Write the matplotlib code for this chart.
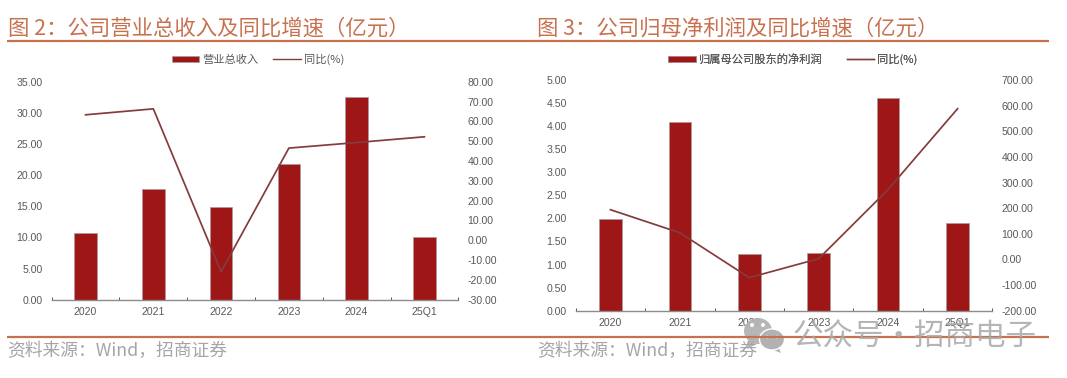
import matplotlib
matplotlib.use("Agg")
import matplotlib.pyplot as plt
from matplotlib.patches import Ellipse, Polygon

CJK = ['Noto Sans CJK SC', 'DejaVu Sans']
LAT = ['Liberation Sans', 'DejaVu Sans']
plt.rcParams['font.family'] = CJK

periods = ['2020', '2021', '2022', '2023', '2024', '25Q1']
revenue = [10.65, 17.8, 14.9, 21.75, 32.6, 10.0]
revenue_yoy = [63.3, 66.3, -15.9, 46.5, 49.3, 52.2]
profit = [1.99, 4.08, 1.235, 1.25, 4.61, 1.91]
profit_yoy = [194, 104, -71, 3, 273, 588]

rev_ticks = [0, 5, 10, 15, 20, 25, 30, 35]
rev_yoy_ticks = [-30, -20, -10, 0, 10, 20, 30, 40, 50, 60, 70, 80]
pro_ticks = [0, .5, 1, 1.5, 2, 2.5, 3, 3.5, 4, 4.5, 5]
pro_yoy_ticks = [-200, -100, 0, 100, 200, 300, 400, 500, 600, 700]

W, H = 1067, 378
BAR = '#9E1616'
LINE = '#843C3C'
GREY = '#595959'
RULE = '#C8714F'
TITLE = '#C8714F'
SRC = '#A4A4AA'
fig = plt.figure(figsize=(W / 100, H / 100), dpi=100, facecolor='white')


def panel(x0, x1, ytop, ybot, bars, line, lticks, rticks, bar_w, xpad):
    ax = fig.add_axes([x0 / W, 1 - ybot / H, (x1 - x0) / W, (ybot - ytop) / H])
    b = ax.bar(range(len(periods)), bars, width=bar_w, color=BAR,
               edgecolor='#A89C9C', linewidth=0.5)
    ax.set_xlim(-0.5, len(periods) - 0.5)
    ax.set_ylim(lticks[0], lticks[-1])
    ax.set_yticks(lticks, [f'{v:.2f}' for v in lticks], fontfamily=LAT,
                  fontsize=7.6, color=GREY)
    ax.tick_params(axis='y', length=0, pad=6.5)
    ax.set_xticks([i - 0.5 for i in range(len(periods) + 1)], [''] * (len(periods) + 1))
    ax.tick_params(axis='x', which='major', direction='in', length=2.2, width=0.7,
                   color='#555555')
    ax.set_xticks(range(len(periods)), periods, minor=True, fontfamily=LAT,
                  fontsize=7.6, color=GREY)
    ax.tick_params(axis='x', which='minor', length=0, pad=xpad)
    for s in ['top', 'left', 'right']:
        ax.spines[s].set_visible(False)
    ax.spines['bottom'].set_color('#8C8C8C')
    ax.spines['bottom'].set_linewidth(1.0)
    ax.patch.set_alpha(0)

    tw = ax.twinx()
    l, = tw.plot(range(len(periods)), line, color=LINE, linewidth=1.25)
    tw.set_ylim(rticks[0], rticks[-1])
    tw.set_yticks(rticks, [f'{v:.2f}' for v in rticks], fontfamily=LAT,
                  fontsize=7.6, color=GREY)
    tw.tick_params(axis='y', length=0, pad=6.5)
    for s in tw.spines.values():
        s.set_visible(False)
    return b, l


b1, l1 = panel(51.7, 458.3, 81.7, 299.7, revenue, revenue_yoy, rev_ticks, rev_yoy_ticks, 0.335, 5.0)
b2, l2 = panel(575.7, 992.3, 80.0, 310.7, profit, profit_yoy, pro_ticks, pro_yoy_ticks, 0.325, 5.0)

ov = fig.add_axes([0, 0, 1, 1], zorder=10)
ov.set_xlim(0, W)
ov.set_ylim(H, 0)
ov.axis('off')
ov.patch.set_alpha(0)

for y in (40.8, 337):
    ov.plot([7, 1049], [y, y], color=RULE, linewidth=1.6, solid_capstyle='butt')

ov.text(8, 28.5, '图 2：公司营业总收入及同比增速（亿元）', fontsize=15.4, color=TITLE, va='center')
ov.text(537, 28.5, '图 3：公司归母净利润及同比增速（亿元）', fontsize=15.4, color=TITLE, va='center')
ov.text(7, 351, '资料来源：Wind，招商证券', fontsize=12.8, color=SRC, va='center')
ov.text(537, 351, '资料来源：Wind，招商证券', fontsize=12.8, color=SRC, va='center')


def legend(handles, labels, cx, spacing):
    leg = ov.legend(handles, labels, loc='center', bbox_to_anchor=(cx / W, 1 - 59.5 / H),
                    bbox_transform=fig.transFigure, ncol=2, frameon=False, fontsize=8.1,
                    labelcolor=GREY, handlelength=2.45, handleheight=0.55,
                    handletextpad=0.3, columnspacing=spacing, borderpad=0, borderaxespad=0)
    for h in leg.get_lines():
        h.set_linewidth(1.0)
    ov.add_artist(leg)


legend([b1, l1], ['营业总收入', '同比(%)'], 258, 1.25)
legend([b2, l2], ['归属母公司股东的净利润', '同比(%)'], 793, 2.1)

# watermark
WM = '#B2B2B2'
ov.add_patch(Polygon([(749, 340), (747, 349), (757, 344)], color=WM, alpha=0.95, lw=0))
ov.add_patch(Ellipse((758, 331), 28, 26, color=WM, alpha=0.95, lw=0))
ov.add_patch(Polygon([(778, 346), (781, 353), (771, 349)], color=WM, lw=0))
ov.add_patch(Ellipse((772, 339.5), 25, 21, facecolor=WM, edgecolor='white', linewidth=1.0))
for cx, cy, r in [(752, 325, 2), (763, 325, 2), (767, 337, 1.4), (777, 337, 1.4)]:
    ov.add_patch(Ellipse((cx, cy), 2 * r, 2 * r, color='white', lw=0))
ov.text(792, 337, '公众号·招商电子', fontsize=22, color='#A8A8A8', alpha=0.85, va='center')

fig.savefig('out.png', dpi=100)
